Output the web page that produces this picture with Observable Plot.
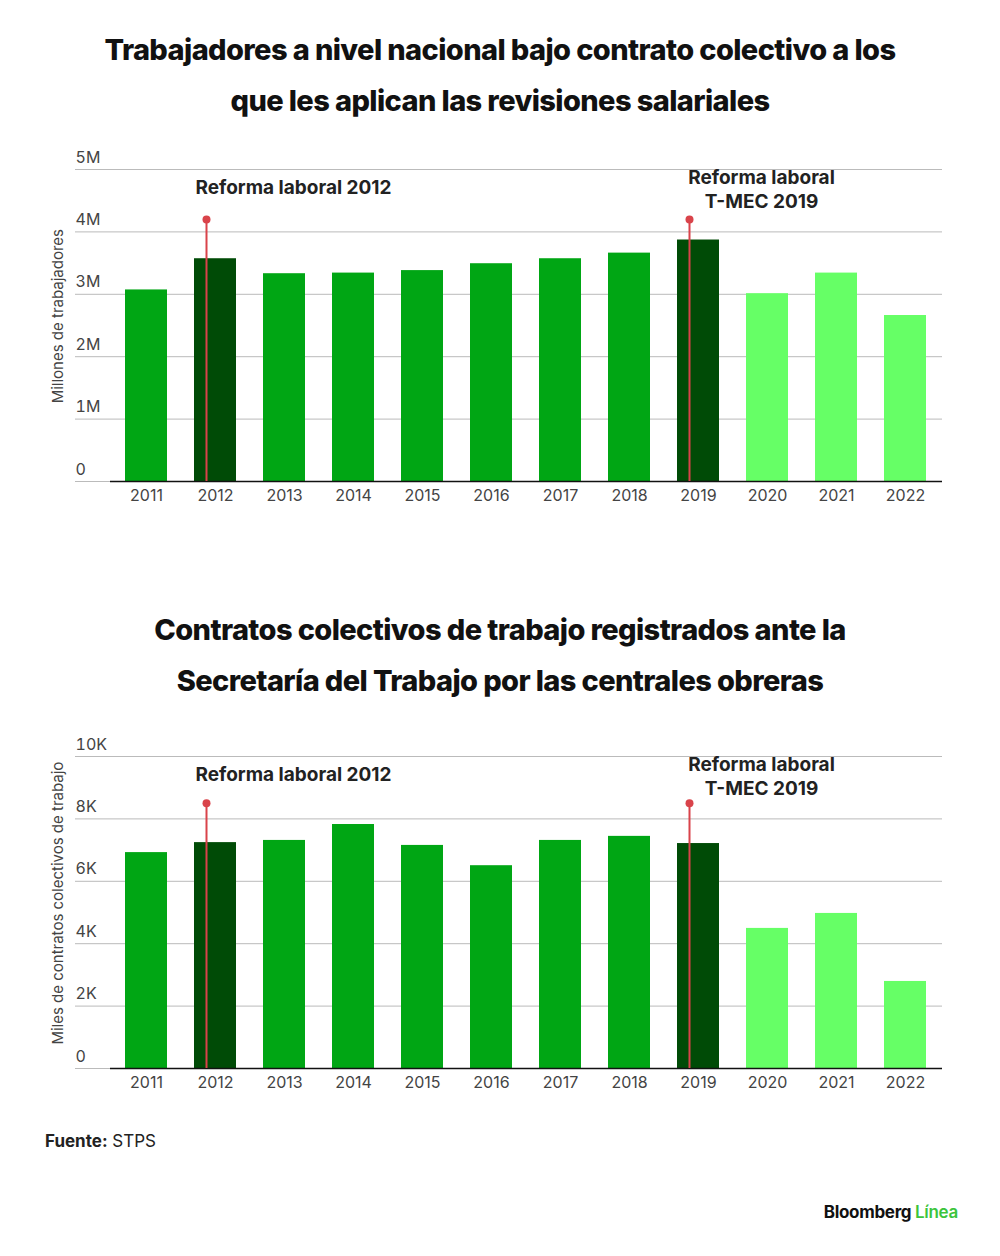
<!DOCTYPE html>
<html><head><meta charset="utf-8">
<script src="https://cdn.jsdelivr.net/npm/d3@7"></script>
<script src="https://cdn.jsdelivr.net/npm/@observablehq/plot@0.6"></script>
<style>
body{margin:0;background:#fff;font-family:Inter,"Liberation Sans",sans-serif;width:1000px;height:1256px;position:relative}
.t{font-weight:800;font-size:29px;text-align:center;line-height:51px;letter-spacing:-0.6px;color:#111}
svg{display:block}
</style></head><body>
<div class="t" style="position:absolute;top:24px;left:0;width:1000px">Trabajadores a nivel nacional bajo contrato colectivo a los<br>que les aplican las revisiones salariales</div>
<div id="c1" style="position:absolute;top:140px;left:0"></div>
<div class="t" style="position:absolute;top:604px;left:0;width:1000px">Contratos colectivos de trabajo registrados ante la<br>Secretaría del Trabajo por las centrales obreras</div>
<div id="c2" style="position:absolute;top:720px;left:0"></div>
<div style="position:absolute;top:1131px;left:45px;font-size:17px;color:#222"><b>Fuente:</b> STPS</div>
<div style="position:absolute;top:1202px;right:42px;font-size:17px;font-weight:700;color:#111;letter-spacing:-0.3px">Bloomberg <span style="color:#3cc43c;font-weight:600">Línea</span></div>
<script>
const years = ["2011","2012","2013","2014","2015","2016","2017","2018","2019","2020","2021","2022"];
const workers = [3.07,3.57,3.33,3.34,3.38,3.49,3.57,3.66,3.87,3.01,3.34,2.66];
const contracts = [6.92,7.24,7.31,7.82,7.15,6.50,7.31,7.44,7.21,4.49,4.97,2.79];
const kind = ["n","d","n","n","n","n","n","n","d","l","l","l"];
const yTicks1 = [0,1,2,3,4,5];
const yTicks2 = [0,2,4,6,8,10];

function chart(vals, ticks, fmt, label, lblY, height, mt, mb, annTop, labTop) {
  const data = years.map((y,i)=>({year:y, v:vals[i], k:kind[i]}));
  const ann = [{year:"2012"},{year:"2019"}];
  const max = ticks[ticks.length-1];
  return Plot.plot({
    width:1000, height, marginLeft:110, marginRight:58, marginTop:mt, marginBottom:mb,
    style:{fontFamily:"Inter, 'Liberation Sans', sans-serif", fontSize:"16px", color:"#333"},
    x:{domain:years, paddingInner:0.39, paddingOuter:0.15},
    y:{domain:[0,max]},
    color:{domain:["n","d","l"], range:["#00a614","#004b06","#66ff66"]},
    marks:[
      Plot.gridY(ticks,{stroke:"#bbb", strokeOpacity:1}),
      Plot.axisY(ticks,{tickSize:35, tickFormat:()=>"", stroke:"#bbb", label:null}),
      Plot.axisY(ticks,{tickSize:0, tickPadding:35, textAnchor:"start", dy:-12, fill:"#444", tickFormat:fmt, label:null}),
      Plot.barY(data,{x:"year", y:"v", fill:"k"}),
      Plot.ruleY([0],{stroke:"#111", strokeWidth:1.5}),
      Plot.axisX({tickSize:0, tickPadding:8, fill:"#444", label:null}),
      Plot.text([label],{frameAnchor:"left", textAnchor:"middle", y:lblY, rotate:-90, dx:-52, fill:"#444", fontSize:15}),
      Plot.ruleX(ann,{x:"year", y1:0, y2:annTop, dx:-9, stroke:"#d9434a", strokeWidth:2}),
      Plot.dot(ann,{x:"year", y:annTop, dx:-9, r:4, fill:"#d9434a"}),
      Plot.text(["Reforma laboral 2012"],{x:()=>"2012", y:labTop, dx:-20, textAnchor:"start", fontWeight:700, fontSize:19, fill:"#222"}),
      Plot.text(["Reforma laboral\nT-MEC 2019"],{x:()=>"2019", y:labTop, dx:63, textAnchor:"middle", lineHeight:1.25, fontWeight:700, fontSize:19, fill:"#222"})
    ]
  });
}
document.getElementById("c1").append(chart(workers, yTicks1, d=>d===0?"0":d+"M", "Millones de trabajadores", 2.65, 380, 29, 39, 4.2, 4.7));
document.getElementById("c2").append(chart(contracts, yTicks2, d=>d===0?"0":d+"K", "Miles de contratos colectivos de trabajo", 5.3, 390, 36, 42, 8.5, 9.4));
</script>
</body></html>
